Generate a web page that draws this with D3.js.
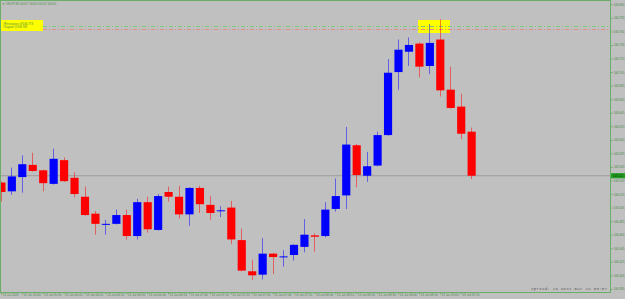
<!DOCTYPE html>
<html lang="en">
  <head>
    <meta charset="UTF-8" />
    <script src="https://d3js.org/d3.v7.min.js"></script>
    <title>USDJPY M5</title>
    <style type="text/css">
      body {
        margin: 0;
        background: #c0c0c0;
      }
      svg {
        display: block;
      }
      .axis text,
      .title,
      .box-text {
        font-family: 'Liberation Sans', sans-serif;
        fill: #4a8a4a;
      }
      .info {
        font-family: 'Liberation Mono', monospace;
        fill: #5c5c5c;
      }
    </style>
  </head>
  <body>
    <svg width="625" height="299"></svg>
  </body>
  <script type="text/javascript">
    // candles, M5 bars
    const open = [
      106.542, 106.529, 106.55, 106.568, 106.56, 106.54, 106.575, 106.549, 106.521, 106.496, 106.48, 106.481,
      106.494, 106.463, 106.513, 106.472, 106.528, 106.521, 106.495, 106.534, 106.509, 106.5, 106.505, 106.457,
      106.411, 106.406, 106.437, 106.432, 106.435, 106.447, 106.464, 106.463, 106.503, 106.523, 106.597, 106.552,
      106.567, 106.612, 106.705, 106.735, 106.747, 106.714, 106.753, 106.679, 106.654, 106.617,
    ];
    const high = [
      106.543, 106.564, 106.582, 106.586, 106.561, 106.592, 106.579, 106.557, 106.536, 106.5, 106.487, 106.502,
      106.502, 106.518, 106.521, 106.525, 106.536, 106.537, 106.535, 106.537, 106.522, 106.507, 106.515, 106.474,
      106.428, 106.46, 106.438, 106.442, 106.451, 106.488, 106.467, 106.513, 106.548, 106.624, 106.599, 106.587,
      106.617, 106.724, 106.753, 106.756, 106.749, 106.776, 106.783, 106.713, 106.673, 106.623,
    ];
    const low = [
      106.514, 106.524, 106.527, 106.558, 106.529, 106.539, 106.543, 106.52, 106.493, 106.465, 106.465, 106.48,
      106.458, 106.458, 106.468, 106.471, 106.514, 106.489, 106.478, 106.497, 106.487, 106.491, 106.451, 106.411,
      106.398, 106.399, 106.407, 106.418, 106.427, 106.439, 106.44, 106.461, 106.499, 106.503, 106.535, 106.543,
      106.566, 106.611, 106.679, 106.714, 106.697, 106.702, 106.669, 106.651, 106.606, 106.547,
    ];
    const close = [
      106.528, 106.551, 106.569, 106.559, 106.541, 106.577, 106.544, 106.525, 106.494, 106.481, 106.481, 106.494,
      106.463, 106.513, 106.473, 106.522, 106.521, 106.495, 106.534, 106.51, 106.497, 106.501, 106.458, 106.412,
      106.405, 106.437, 106.432, 106.433, 106.45, 106.465, 106.462, 106.502, 106.522, 106.598, 106.553, 106.566,
      106.612, 106.704, 106.738, 106.745, 106.713, 106.748, 106.678, 106.652, 106.614, 106.552,
    ];

    // time labels, one every second bar
    const timeLabels = [
      '13 Jul 2020', '13 Jul 05:40', '13 Jul 05:50', '13 Jul 06:00', '13 Jul 06:10', '13 Jul 06:20',
      '13 Jul 06:30', '13 Jul 06:40', '13 Jul 06:50', '13 Jul 07:00', '13 Jul 07:10', '13 Jul 07:20',
      '13 Jul 07:30', '13 Jul 07:40', '13 Jul 07:50', '13 Jul 08:00', '13 Jul 08:10', '13 Jul 08:20',
      '13 Jul 08:30', '13 Jul 08:40', '13 Jul 08:50', '13 Jul 09:00', '13 Jul 09:10',
    ];
    const priceTicks = [
      106.805, 106.785, 106.765, 106.745, 106.725, 106.705, 106.685, 106.665, 106.645, 106.625, 106.605,
      106.585, 106.565, 106.545, 106.525, 106.505, 106.485, 106.465, 106.445, 106.425, 106.405, 106.385,
    ];
    const levels = [106.773, 106.768]; // green, red dash-dot lines
    const bid = 106.552;

    const candles = open.map((o, i) => ({ i, o, h: high[i], l: low[i], c: close[i] }));

    const W = 625;
    const H = 299;
    const plotRight = 610.5;
    const plotBottom = 292.5;
    const frameColor = '#6aae6a';

    const svg = d3.select('svg');
    svg.append('rect').attr('width', W).attr('height', H).attr('fill', '#c0c0c0');

    const xScale = d3.scaleLinear().domain([0, 45]).range([0.9, 471.15]);
    const yScale = d3.scaleLinear().domain([106.385, 106.805]).range([288.9, 4.3]);
    const bodyW = (xScale(1) - xScale(0)) * 0.78;

    svg.append('clipPath').attr('id', 'plot').append('rect').attr('width', plotRight).attr('height', plotBottom);
    const g = svg.append('g').attr('clip-path', 'url(#plot)');

    // yellow label boxes
    g.append('rect').attr('x', 1).attr('y', 20).attr('width', 42).attr('height', 11).attr('fill', '#ffff00');
    g.append('rect').attr('x', 418).attr('y', 20).attr('width', 32).attr('height', 13).attr('fill', '#ffff00');
    g.append('text')
      .attr('class', 'box-text')
      .attr('x', 3)
      .attr('y', 24.6)
      .attr('font-size', 2.6)
      .attr('textLength', 30)
      .attr('lengthAdjust', 'spacingAndGlyphs')
      .text('#Resistance @106.773');
    g.append('text')
      .attr('class', 'box-text')
      .attr('x', 3)
      .attr('y', 28.2)
      .attr('font-size', 2.6)
      .attr('textLength', 24)
      .attr('lengthAdjust', 'spacingAndGlyphs')
      .text('#Support @106.768');

    // dash-dot levels
    g.selectAll('line.level')
      .data(levels)
      .enter()
      .append('line')
      .attr('class', 'level')
      .attr('x1', 43)
      .attr('x2', plotRight)
      .attr('y1', (d) => Math.round(yScale(d)) + 0.5)
      .attr('y2', (d) => Math.round(yScale(d)) + 0.5)
      .attr('stroke', (d, i) => (i === 0 ? '#7ccc7c' : '#e08a8a'))
      .attr('stroke-dasharray', '4,2,1,2');

    // bid line
    g.append('line')
      .attr('x1', 0)
      .attr('x2', plotRight)
      .attr('y1', yScale(bid))
      .attr('y2', yScale(bid))
      .attr('stroke', '#9c9c9c')
      .attr('stroke-width', 1);

    const color = (d) => (d.c >= d.o ? '#0000ff' : '#ff0000');

    // wicks
    g.selectAll('line.wick')
      .data(candles)
      .enter()
      .append('line')
      .attr('class', 'wick')
      .attr('x1', (d) => Math.round(xScale(d.i)) + 0.5)
      .attr('x2', (d) => Math.round(xScale(d.i)) + 0.5)
      .attr('y1', (d) => yScale(d.h))
      .attr('y2', (d) => yScale(d.l))
      .attr('stroke', color)
      .attr('stroke-opacity', 0.5);

    // bodies
    g.selectAll('rect.body')
      .data(candles)
      .enter()
      .append('rect')
      .attr('class', 'body')
      .attr('x', (d) => xScale(d.i) - bodyW / 2 + 0.5)
      .attr('y', (d) => yScale(Math.max(d.o, d.c)))
      .attr('width', bodyW)
      .attr('height', (d) => Math.max(1, Math.abs(yScale(d.o) - yScale(d.c))))
      .attr('fill', color);

    // frame
    svg.append('line').attr('x1', 0).attr('x2', plotRight).attr('y1', 0.5).attr('y2', 0.5).attr('stroke', frameColor);
    svg.append('line').attr('x1', 0.5).attr('x2', 0.5).attr('y1', 0).attr('y2', plotBottom).attr('stroke', frameColor);
    svg
      .append('line')
      .attr('x1', plotRight)
      .attr('x2', plotRight)
      .attr('y1', 0)
      .attr('y2', plotBottom)
      .attr('stroke', frameColor);
    svg
      .append('line')
      .attr('x1', 0)
      .attr('x2', plotRight)
      .attr('y1', plotBottom)
      .attr('y2', plotBottom)
      .attr('stroke', frameColor);

    // price axis
    const yAxis = svg
      .append('g')
      .attr('class', 'axis')
      .attr('transform', `translate(${plotRight}, 0)`)
      .call(d3.axisRight(yScale).tickValues(priceTicks).tickSize(2).tickPadding(1).tickFormat(d3.format('.3f')));
    yAxis.select('.domain').remove();
    yAxis.selectAll('.tick line').attr('stroke', frameColor);
    yAxis.selectAll('.tick text').attr('font-size', 3);

    // current price tag
    const tag = svg.append('g').attr('transform', `translate(${plotRight}, ${yScale(bid)})`);
    tag.append('rect').attr('x', 0.5).attr('y', -2.6).attr('width', 14).attr('height', 5.2).attr('fill', '#22a022');
    tag.append('text')
      .attr('x', 2)
      .attr('y', 1.1)
      .attr('font-size', 3)
      .attr('font-family', 'Liberation Sans, sans-serif')
      .attr('fill', '#0a3a0a')
      .text(d3.format('.3f')(bid));

    // time axis
    const xAxis = svg
      .append('g')
      .attr('class', 'axis')
      .attr('transform', `translate(0, ${plotBottom})`)
      .call(
        d3
          .axisBottom(xScale)
          .tickValues(timeLabels.map((t, k) => k * 2))
          .tickSize(2)
          .tickFormat((d) => timeLabels[d / 2])
      );
    xAxis.select('.domain').remove();
    xAxis.selectAll('.tick line').attr('stroke', frameColor);
    xAxis
      .selectAll('.tick text')
      .attr('font-size', 3.2)
      .attr('text-anchor', 'start')
      .attr('x', 1)
      .attr('y', 1)
      .attr('dy', '0.9em');

    // title
    svg.append('text')
      .attr('class', 'title')
      .attr('x', 2)
      .attr('y', 5)
      .attr('font-size', 3)
      .text('\u25BC');
    svg.append('text')
      .attr('class', 'title')
      .attr('x', 6)
      .attr('y', 5)
      .attr('font-size', 3)
      .attr('textLength', 50)
      .attr('lengthAdjust', 'spacingAndGlyphs')
      .text('USDJPY,M5  106.617 106.623 106.547 106.552');

    // spread info
    svg.append('text')
      .attr('class', 'info')
      .attr('x', 531)
      .attr('y', 290)
      .attr('font-size', 4)
      .attr('textLength', 76)
      .attr('lengthAdjust', 'spacing')
      .text('Spread: 18   Next Bar in 03:57');
  </script>
</html>
